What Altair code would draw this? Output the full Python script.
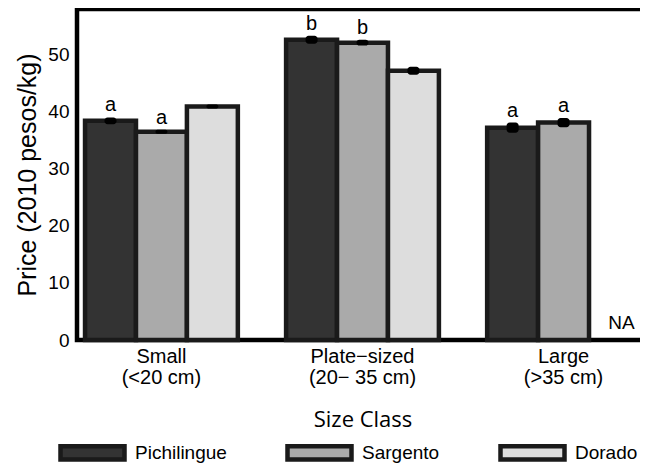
import altair as alt
import pandas as pd

size_classes = ["Small", "Plate\u2212sized", "Large"]
size_ranges = ["(<20 cm)", "(20\u2212 35 cm)", "(>35 cm)"]
sites = ["Pichilingue", "Sargento", "Dorado"]
pichilingue = [38.4, 52.6, 37.2]
sargento = [36.5, 52.1, 38.1]
dorado = [40.9, 47.2, None]
pich_se = [0.6, 0.7, 0.9]
sarg_se = [0.35, 0.5, 0.8]
dor_se = [0.35, 0.7, None]
pich_letters = ["a", "b", "a"]
sarg_letters = ["a", "b", "a"]
dor_letters = ["", "", ""]
colors = ["#333333", "#aaaaaa", "#dddddd"]
y_ticks = [0, 10, 20, 30, 40, 50]

size_labels = [f"{c}|{r}" for c, r in zip(size_classes, size_ranges)]
rows = []
for site, vals, ses, lets in [
    ("Pichilingue", pichilingue, pich_se, pich_letters),
    ("Sargento", sargento, sarg_se, sarg_letters),
    ("Dorado", dorado, dor_se, dor_letters),
]:
    for lab, v, se, let in zip(size_labels, vals, ses, lets):
        rows.append({
            "size": lab, "site": site, "price": v,
            "lo": None if v is None else v - se,
            "hi": None if v is None else v + se,
            "letter": let,
            "na": "NA" if v is None else "",
            "zero": 0,
        })
df = pd.DataFrame(rows)

FONT = "Liberation Sans"
YTITLE = "Price (2010 pesos/kg)"
yscale = alt.Scale(domain=[0, 58], nice=False, zero=True)
yaxis = alt.Axis(values=y_ticks, labelFontSize=19, labelFont=FONT,
                 labelColor="black", labelPadding=8,
                 titleFont=FONT, titleFontSize=25,
                 titleFontWeight="normal", titleColor="black",
                 titlePadding=7)

base = alt.Chart(df).encode(
    x=alt.X(
        "size:N", sort=size_labels,
        scale=alt.Scale(paddingInner=0.24, paddingOuter=0.04),
        axis=alt.Axis(
            title="Size Class", labelExpr="split(datum.value, '|')",
            labelAngle=0, labelFontSize=20, labelLineHeight=21,
            labelPadding=6, labelFont=FONT, labelColor="black",
            titleFont="Open Sans", titleFontSize=22, titleFontWeight="normal",
            titleColor="black", titlePadding=22,
        ),
    ),
    xOffset=alt.XOffset("site:N", sort=sites,
                        scale=alt.Scale(paddingInner=0, paddingOuter=0)),
)

bars = base.mark_bar(stroke="#1a1a1a", strokeWidth=4.5).encode(
    y=alt.Y("price:Q", scale=yscale, title=YTITLE, axis=yaxis),
    color=alt.Color(
        "site:N", sort=sites,
        scale=alt.Scale(domain=sites, range=colors),
        legend=alt.Legend(
            title=None, orient="none", legendX=-19, legendY=409,
            direction="horizontal",
            symbolType="M-1,-0.21H1V0.21H-1Z", symbolSize=4096,
            symbolStrokeColor="#1a1a1a", symbolStrokeWidth=4.5,
            symbolOpacity=1, labelFontSize=19, labelFont=FONT,
            labelColor="black", labelOffset=8, columnPadding=51, padding=0,
        ),
    ),
)

errs = base.mark_bar(width=12, cornerRadius=3, color="black").encode(
    y=alt.Y("lo:Q", scale=yscale, title=YTITLE, axis=yaxis),
    y2="hi:Q",
)

letters = base.mark_text(baseline="alphabetic", dy=-6, fontSize=20,
                         font=FONT, color="black").encode(
    y=alt.Y("hi:Q", scale=yscale, title=YTITLE, axis=yaxis),
    text="letter:N",
)

na_text = base.mark_text(baseline="bottom", dy=-7, dx=7, fontSize=19,
                         font=FONT, color="black").encode(
    y=alt.Y("zero:Q", scale=yscale, title=YTITLE, axis=yaxis),
    text="na:N",
).transform_filter("datum.na == 'NA'")

chart = alt.layer(bars, errs, letters, na_text).properties(
    width=571, height=331,
    autosize=alt.AutoSizeParams(type="none"),
    padding={"left": 69, "top": 1, "right": -8, "bottom": 123},
).configure_view(
    stroke="black", strokeWidth=4.5
).configure_axis(
    domain=False, ticks=False, grid=False
)

chart.save("out.html", embed_options={"renderer": "svg", "actions": False})
